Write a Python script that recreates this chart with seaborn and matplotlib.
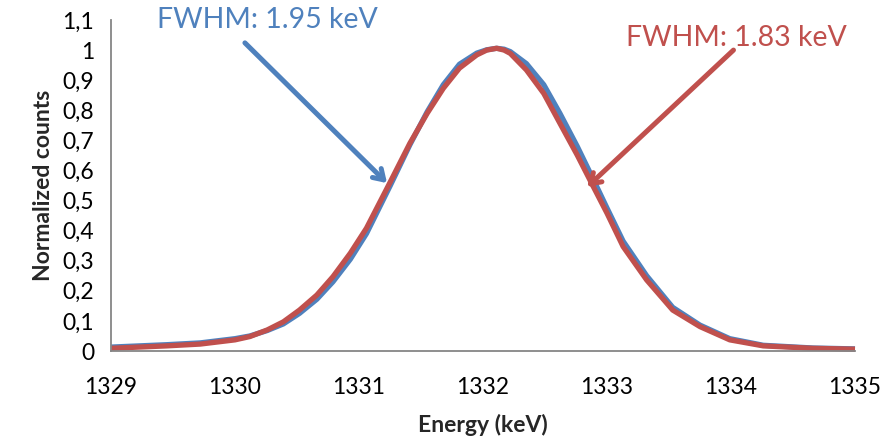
import matplotlib
matplotlib.use("Agg")
import matplotlib.pyplot as plt
import seaborn as sns
import pandas as pd

# ---- data ----
energy = [1329.0, 1329.45, 1329.72, 1330.0, 1330.12, 1330.26, 1330.39, 1330.52, 1330.66,
          1330.79, 1330.93, 1331.06, 1331.25, 1331.41, 1331.55, 1331.68, 1331.81, 1331.95,
          1332.03, 1332.11, 1332.17, 1332.22, 1332.35, 1332.49, 1332.62, 1332.76, 1332.89,
          1333.0, 1333.13, 1333.32, 1333.53, 1333.75, 1333.99, 1334.26, 1334.66, 1335.0]
counts_blue = [0.013, 0.021, 0.027, 0.041, 0.050, 0.068, 0.090, 0.125, 0.172,
               0.230, 0.305, 0.390, 0.548, 0.685, 0.795, 0.885, 0.953, 0.990,
               1.001, 1.006, 1.003, 0.995, 0.955, 0.885, 0.790, 0.680, 0.570,
               0.475, 0.365, 0.250, 0.145, 0.086, 0.041, 0.019, 0.010, 0.007]
counts_red = [0.009, 0.017, 0.023, 0.037, 0.048, 0.070, 0.097, 0.136, 0.186,
              0.247, 0.325, 0.408, 0.560, 0.690, 0.790, 0.873, 0.940, 0.984,
              1.000, 1.006, 1.000, 0.989, 0.934, 0.856, 0.757, 0.651, 0.546,
              0.458, 0.347, 0.236, 0.136, 0.081, 0.037, 0.017, 0.009, 0.006]
series_names = ["FWHM: 1.95 keV", "FWHM: 1.83 keV"]
x_ticks = [1329, 1330, 1331, 1332, 1333, 1334, 1335]
y_ticks = [0, 0.1, 0.2, 0.3, 0.4, 0.5, 0.6, 0.7, 0.8, 0.9, 1.0, 1.1]
y_tick_labels = ["0", "0,1", "0,2", "0,3", "0,4", "0,5", "0,6", "0,7", "0,8", "0,9", "1", "1,1"]

BLUE = "#4F81BD"
RED = "#C0504D"
GREY = "#868686"

sns.set_style("white")
plt.rcParams["font.family"] = ["Lato", "DejaVu Sans"]

df = pd.concat([
    pd.DataFrame({"Energy": energy, "Counts": counts_blue, "series": series_names[0]}),
    pd.DataFrame({"Energy": energy, "Counts": counts_red, "series": series_names[1]}),
])

fig = plt.figure(figsize=(8.95, 4.43), dpi=100)
ax = fig.add_axes([111 / 895, 1 - 351 / 443, (855 - 111) / 895, (351 - 20) / 443])

sns.lineplot(data=df, x="Energy", y="Counts", hue="series",
             palette={series_names[0]: BLUE, series_names[1]: RED},
             linewidth=3.8, legend=False, ax=ax, sort=False)
for ln in ax.get_lines():
    ln.set_solid_capstyle("butt")
    ln.set_solid_joinstyle("round")
    ln.set_clip_on(False)

ax.set_xlim(1329, 1335)
ax.set_ylim(0, 1.1)
ax.set_xticks(x_ticks)
ax.set_xticklabels([str(t) for t in x_ticks])
ax.set_yticks(y_ticks)
ax.set_yticklabels(y_tick_labels)

for s in ["top", "right"]:
    ax.spines[s].set_visible(False)
for s in ["left", "bottom"]:
    ax.spines[s].set_color(GREY)
    ax.spines[s].set_linewidth(1.3)
ax.tick_params(axis="both", which="major", direction="out", length=6, width=1.3,
               color=GREY, labelsize=16.5, labelcolor="black")
ax.tick_params(axis="x", pad=13)
ax.tick_params(axis="y", pad=6)

ax.set_xlabel("Energy (keV)", fontsize=16.5, fontweight="bold", labelpad=11)
ax.set_ylabel("Normalized counts", fontsize=16.5, fontweight="bold", labelpad=6)

# annotations
ax.annotate(series_names[0], xy=(1330.26, 1.10), color=BLUE, fontsize=20.5,
            ha="center", va="center", annotation_clip=False)
ax.annotate("", xy=(1331.226, 0.558), xytext=(1330.08, 1.024),
            annotation_clip=False,
            arrowprops=dict(arrowstyle="->,head_length=0.7,head_width=0.45",
                            color=BLUE, lw=3.6, shrinkA=0, shrinkB=0))
ax.annotate(series_names[1], xy=(1334.04, 1.04), color=RED, fontsize=20.5,
            ha="center", va="center", annotation_clip=False)
ax.annotate("", xy=(1332.84, 0.545), xytext=(1334.02, 1.0),
            annotation_clip=False,
            arrowprops=dict(arrowstyle="->,head_length=0.7,head_width=0.45",
                            color=RED, lw=3.6, shrinkA=0, shrinkB=0))

fig.savefig("out.png", dpi=100)
